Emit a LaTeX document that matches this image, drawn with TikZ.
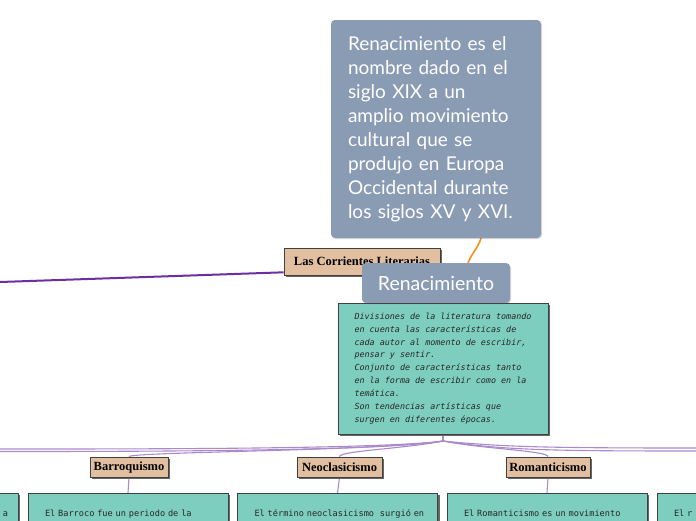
\documentclass[tikz,border=0pt]{standalone}
\usepackage{fontspec}
\newfontfamily\greyfont{Lato}
\newfontfamily\tanfont{Liberation Serif}
\newfontfamily\pixfont{DejaVu Sans Mono}
\usetikzlibrary{shadows,backgrounds}
\definecolor{greybox}{HTML}{8A9BB4}
\definecolor{tealbox}{HTML}{7ECEC0}
\definecolor{tanbox}{HTML}{E2BFA0}
\definecolor{purpleline}{HTML}{6C2FA0}
\definecolor{lavline}{HTML}{A98ACB}
\definecolor{orangeline}{HTML}{F5921E}
\tikzset{
  greybig/.style={fill=greybox, rounded corners=4pt, text=white, inner xsep=17pt, inner ysep=0pt,
    text width=176pt, align=left, minimum height=218pt,
    font=\greyfont\fontsize{19}{24}\selectfont,
    drop shadow={shadow xshift=1pt, shadow yshift=-1pt, fill=black, opacity=0.15}},
  greysmall/.style={fill=greybox, rounded corners=4pt, text=white, inner sep=0pt,
    font=\greyfont\fontsize{19.5}{22}\selectfont,
    drop shadow={shadow xshift=1pt, shadow yshift=-1pt, fill=black, opacity=0.15}},
  tanstyle/.style={draw=black!75, line width=0.6pt, fill=tanbox, inner sep=0pt, minimum height=20pt,
    font=\tanfont\bfseries\fontsize{12.5}{13}\selectfont,
    drop shadow={shadow xshift=2pt, shadow yshift=-2pt, fill=black!60, opacity=1}},
  tealmain/.style={draw=black!75, line width=0.6pt, fill=tealbox, inner xsep=0pt, inner ysep=0pt,
    align=left, minimum height=131pt, minimum width=210pt, text=black!85,
    font=\pixfont\itshape\fontsize{8.4}{12.9}\selectfont,
    drop shadow={shadow xshift=2pt, shadow yshift=-2pt, fill=black!60, opacity=1}},
  tealbot/.style={draw=black!75, line width=0.6pt, fill=tealbox, inner xsep=17pt, inner ysep=17pt,
    text width=166pt, align=left, text height=6.5pt, text depth=2pt, text=black!85,
    minimum width=200pt, anchor=north,
    font=\pixfont\fontsize{8.6}{12.9}\selectfont,
    drop shadow={shadow xshift=2pt, shadow yshift=-2pt, fill=black!60, opacity=1}},
  lav/.style={draw=lavline, line width=1.1pt},
}
\begin{document}
\begin{tikzpicture}[x=1pt,y=-1pt]
\useasboundingbox (0,0) rectangle (696,520);
\clip (0,0) rectangle (696,520);

\node[greybig] (desc) at (436,129) {Renacimiento es el\\nombre dado en el\\siglo XIX a un\\amplio movimiento\\cultural que se\\produjo en Europa\\Occidental durante\\los siglos XV y XVI.};

\node[tanstyle, minimum width=156pt, minimum height=27pt] (lcl) at (362,261.5) {Las Corrientes Literarias};

\node[tealmain] (def) at (443,368.5) {Divisiones de la literatura tomando\\en cuenta las características de\\cada autor al momento de escribir,\\pensar y sentir.\\Conjunto de características tanto\\en la forma de escribir como en la\\temática.\\Son tendencias artísticas que\\surgen en diferentes épocas.};

\node[greysmall, minimum width=148pt, minimum height=40pt] (ren) at (436,283) {Renacimiento};

\node[tanstyle, minimum width=78pt] (barr) at (129,467) {Barroquismo};
\node[tanstyle, minimum width=85pt] (neo) at (339.5,467) {Neoclasicismo};
\node[tanstyle, minimum width=84pt] (rom) at (548,467) {Romanticismo};

\node[tealbot, align=right, inner xsep=10pt, text width=180pt] (bL) at (-82,493) {a};
\node[tealbot] (bB) at (128,493) {\mbox{El Barroco fue un periodo de la}};
\node[tealbot] (bN) at (337.5,493) {\mbox{El término neoclasicismo\ \ surgió en}};
\node[tealbot] (bR) at (547,493) {\mbox{El Romanticismo es un movimiento}};
\node[tealbot] (bX) at (757,493) {El r};

\coordinate (leftedge) at (0,282);
\coordinate (J) at (443,441);
\coordinate (L1) at (0,449);
\coordinate (L2) at (0,451.5);
\coordinate (R1) at (696,448);
\coordinate (R2) at (696,451);

\begin{scope}[on background layer]
\draw[orangeline, line width=1.6pt] ([xshift=45pt]desc.south) .. controls +(-3,10) and +(4,-10) .. ([xshift=32pt]ren.north);
\draw[purpleline, line width=2pt] (leftedge) -- ([yshift=3pt]lcl.south west);
\draw[lav] (def.south) -- (J);
\draw[lav] (J) .. controls +(-40,8) and +(0,-6) .. (neo.north);
\draw[lav] (J) .. controls +(-60,10) and +(0,-5) .. (barr.north);
\draw[lav] (J) .. controls +(-60,8) and +(150,0) .. (L1);
\draw[lav] (J) .. controls +(-60,10) and +(150,0) .. (L2);
\draw[lav] (J) .. controls +(40,8) and +(0,-6) .. (rom.north);
\draw[lav] (J) .. controls +(60,6) and +(-150,0) .. (R1);
\draw[lav] (J) .. controls +(60,9) and +(-150,0) .. (R2);
\draw[lav] (barr.south) -- (bB.north);
\draw[lav] (neo.south) -- (bN.north);
\draw[lav] (rom.south) -- (bR.north);
\end{scope}
\end{tikzpicture}
\end{document}
